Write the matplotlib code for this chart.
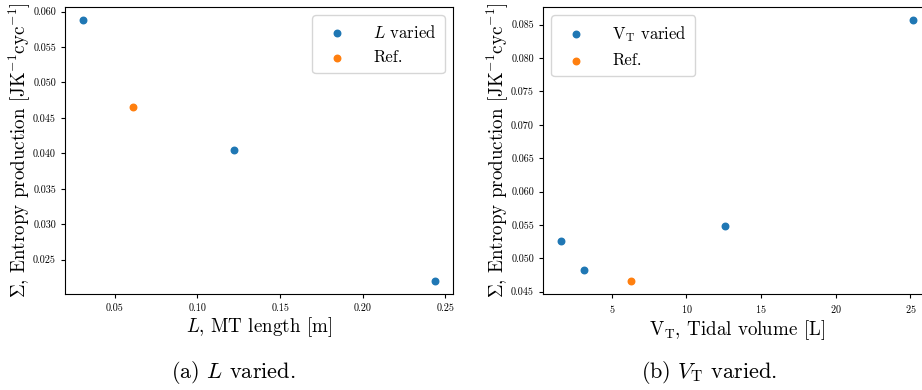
import matplotlib
matplotlib.use("Agg")
import matplotlib.pyplot as plt

plt.rcParams['font.family'] = 'serif'
plt.rcParams['font.serif'] = ['cmr10']
plt.rcParams['mathtext.fontset'] = 'cm'
plt.rcParams['axes.formatter.use_mathtext'] = True
plt.rcParams['axes.unicode_minus'] = False

# Panel (a): L varied
L_varied = [0.0305, 0.122, 0.244]
S_L_varied = [0.0588, 0.0405, 0.0220]
L_ref = [0.061]
S_L_ref = [0.0466]

# Panel (b): V_T varied
VT_varied = [1.575, 3.15, 12.6, 25.2]
S_VT_varied = [0.0526, 0.0483, 0.0548, 0.0857]
VT_ref = [6.3]
S_VT_ref = [0.0466]

blue = '#1f77b4'
orange = '#ff7f0e'

W, H = 922, 390
fig = plt.figure(figsize=(W/100, H/100), dpi=100)

ax1 = fig.add_axes([65/W, (H-294)/H, (453-65)/W, 287/H])
ax2 = fig.add_axes([543/W, (H-294)/H, (931-543)/W, 287/H])

ylabel = r'$\Sigma$, Entropy production [JK$^{-1}$cyc$^{-1}$]'
tick_fs = 7.3
label_fs = 13.7
leg_fs = 12

ax1.scatter(L_varied, S_L_varied, s=22, color=blue, label=r'$L$ varied', zorder=3)
ax1.scatter(L_ref, S_L_ref, s=22, color=orange, label='Ref.', zorder=3)
ax1.set_xlabel(r'$L$, MT length [m]', fontsize=label_fs, labelpad=2)
ax1.set_ylabel(ylabel, fontsize=label_fs, labelpad=1)
ax1.set_xticks([0.05, 0.10, 0.15, 0.20, 0.25])
ax1.set_yticks([0.025, 0.030, 0.035, 0.040, 0.045, 0.050, 0.055, 0.060])
ax1.set_xticklabels(['0.05', '0.10', '0.15', '0.20', '0.25'])
ax1.set_yticklabels(['0.025', '0.030', '0.035', '0.040', '0.045', '0.050', '0.055', '0.060'])
ax1.tick_params(labelsize=tick_fs, length=3)
ax1.legend(loc='upper right', fontsize=leg_fs, handletextpad=1.15, borderpad=0.5,
           labelspacing=0.55)

ax2.scatter(VT_varied, S_VT_varied, s=22, color=blue, label=r'$\mathrm{V_T}$ varied', zorder=3)
ax2.scatter(VT_ref, S_VT_ref, s=22, color=orange, label='Ref.', zorder=3)
ax2.set_xlabel(r'$\mathrm{V_T}$, Tidal volume [L]', fontsize=label_fs, labelpad=2)
ax2.set_ylabel(ylabel, fontsize=label_fs, labelpad=1)
ax2.set_xticks([5, 10, 15, 20, 25])
ax2.set_yticks([0.045, 0.050, 0.055, 0.060, 0.065, 0.070, 0.075, 0.080, 0.085])
ax2.set_yticklabels(['0.045', '0.050', '0.055', '0.060', '0.065', '0.070', '0.075', '0.080', '0.085'])
ax2.tick_params(labelsize=tick_fs, length=3)
ax2.legend(loc='upper left', fontsize=leg_fs, handletextpad=1.15, borderpad=0.5,
           labelspacing=0.55)

fig.text(233/W, 1 - 373/H, r'(a) $L$ varied.', fontsize=16, ha='center', va='center')
fig.text(709/W, 1 - 373/H, r'(b) $V_{\mathrm{T}}$ varied.', fontsize=16, ha='center', va='center')

fig.savefig('out.png', dpi=100)
